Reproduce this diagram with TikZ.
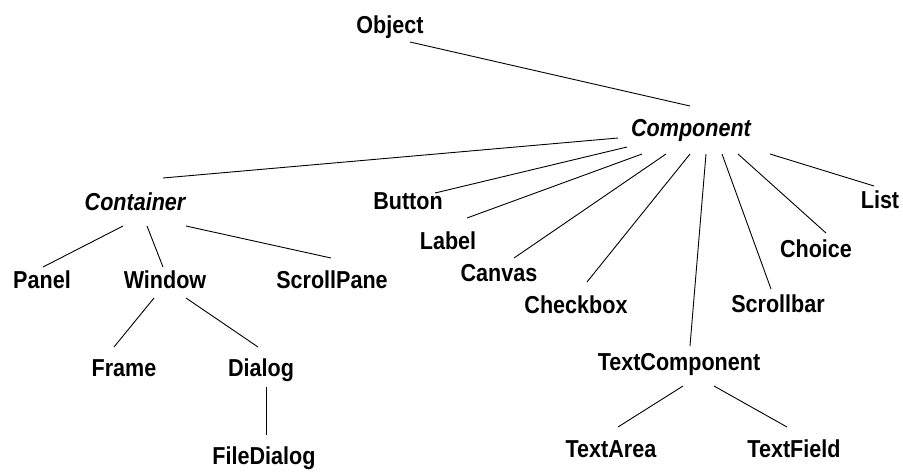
\documentclass[tikz,border=0pt]{standalone}
\usepackage{fontspec}
\setmainfont[FakeStretch=0.88]{Liberation Sans}

% connector between two named nodes, each end offset from the node's base point
\newcommand\classlink[4]{\draw[link] ([shift={(#2)}]#1.base) -- ([shift={(#4)}]#3.base);}

\begin{document}
\begin{tikzpicture}[x=1pt, y=-1pt,
  cls/.style={anchor=base, inner sep=0pt, font=\fontsize{24.5}{28}\selectfont\bfseries},
  abstractcls/.style={cls, font=\fontsize{24.5}{28}\selectfont\bfseries\itshape},
  link/.style={draw=black, line width=0.9pt}]
\useasboundingbox (0,0) rectangle (903,472);

% class names (x = centre, y = baseline)
\node[cls]         (obj)        at (390,33)  {Object};
\node[abstractcls] (comp)       at (691,136) {Component};
\node[abstractcls] (cont)       at (135,210) {Container};
\node[cls]         (button)     at (408,209) {Button};
\node[cls]         (label)      at (448,249) {Label};
\node[cls]         (canvas)     at (499,281) {Canvas};
\node[cls]         (checkbox)   at (576,313) {Checkbox};
\node[cls]         (scrollbar)  at (778,312) {Scrollbar};
\node[cls]         (choice)     at (816,257) {Choice};
\node[cls]         (list)       at (880,208) {List};
\node[cls]         (panel)      at (42,288)  {Panel};
\node[cls]         (window)     at (165,288) {Window};
\node[cls]         (scrollpane) at (332,288) {ScrollPane};
\node[cls]         (frame)      at (124,376) {Frame};
\node[cls]         (dialog)     at (261,376) {Dialog};
\node[cls]         (filedialog) at (264,464) {FileDialog};
\node[cls]         (textcomp)   at (679,370) {TextComponent};
\node[cls]         (textarea)   at (611,457) {TextArea};
\node[cls]         (textfield)  at (794,457) {TextField};

% inheritance links
\classlink{obj}{20,9}{comp}{-1,-30}
\classlink{comp}{-73,2}{cont}{28,-32}
\classlink{comp}{-64,11}{button}{27,-16}
\classlink{comp}{-49,18}{label}{19,-31}
\classlink{comp}{-25,18}{canvas}{15,-23}
\classlink{comp}{-1,18}{checkbox}{11,-31}
\classlink{comp}{15,18}{textcomp}{11,-24}
\classlink{comp}{31,18}{scrollbar}{-7,-23}
\classlink{comp}{47,18}{choice}{10,-24}
\classlink{comp}{79,18}{list}{-6,-22}
\classlink{cont}{-12,16}{panel}{1,-21}
\classlink{cont}{12,16}{window}{-2,-21}
\classlink{cont}{51,16}{scrollpane}{-1,-30}
\classlink{window}{-11,10}{frame}{-10,-29}
\classlink{window}{21,10}{dialog}{-3,-29}
\classlink{dialog}{5,11}{filedialog}{2,-29}
\classlink{textcomp}{4,16}{textarea}{7,-30}
\classlink{textcomp}{35,16}{textfield}{-7,-30}
\end{tikzpicture}
\end{document}
